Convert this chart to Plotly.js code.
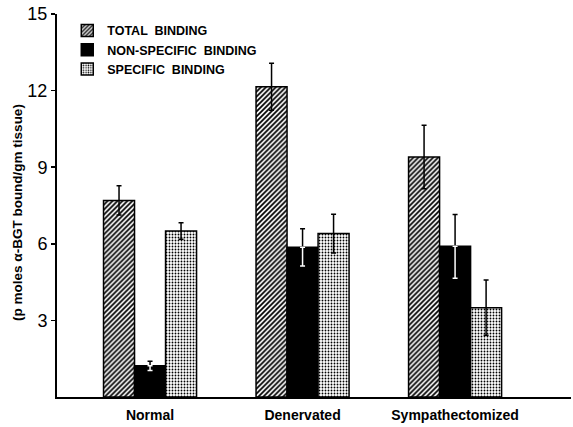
<!DOCTYPE html>
<html>
<head>
<meta charset="utf-8">
<script src="https://cdn.plot.ly/plotly-3.0.1.min.js"></script>
<style>html,body{margin:0;padding:0;background:#fff;}#chart{width:573px;height:427px;}</style>
</head>
<body>
<div id="chart"></div>
<script>
var categories = ["Normal", "Denervated", "Sympathectomized"];
var seriesNames = ["TOTAL  BINDING", "NON-SPECIFIC  BINDING", "SPECIFIC  BINDING"];
var totalBinding = [7.7, 12.15, 9.4];
var totalErr = [0.57, 0.92, 1.24];
var nonSpecific = [1.22, 5.86, 5.9];
var nonSpecificErr = [0.18, 0.73, 1.25];
var specific = [6.5, 6.4, 3.5];
var specificErr = [0.32, 0.76, 1.08];
var yTicks = [3, 6, 9, 12, 15];
var yTitle = "(p moles α-BGT bound/gm tissue)";

var zeros = categories.map(function () { return 0; });

var data = [
  {
    type: "bar", name: seriesNames[0], x: categories, y: totalBinding, offsetgroup: "t",
    marker: {
      color: "#fff", line: {color: "#000", width: 1.5},
      pattern: {shape: "/", fgcolor: "#000", bgcolor: "#fff", size: 3.5, solidity: 0.5}
    },
    error_y: {type: "data", array: totalErr, visible: true, color: "#000", thickness: 1.5, width: 2.5},
    hoverinfo: "skip"
  },
  {
    type: "bar", name: seriesNames[1], x: categories, y: nonSpecific, offsetgroup: "n",
    marker: {color: "#000", line: {color: "#000", width: 1.5}},
    error_y: {type: "data", symmetric: false, array: nonSpecificErr, arrayminus: zeros, visible: true, color: "#000", thickness: 1.5, width: 2.5},
    hoverinfo: "skip"
  },
  {
    type: "bar", name: seriesNames[1], x: categories, y: nonSpecific, offsetgroup: "n",
    showlegend: false,
    marker: {color: "rgba(0,0,0,0)", line: {width: 0}},
    error_y: {type: "data", symmetric: false, array: zeros, arrayminus: nonSpecificErr, visible: true, color: "#fff", thickness: 1.5, width: 2.5},
    hoverinfo: "skip"
  },
  {
    type: "bar", name: seriesNames[2], x: categories, y: specific, offsetgroup: "s",
    marker: {
      color: "#fff", line: {color: "#000", width: 1.5},
      pattern: {shape: ".", fgcolor: "#000", bgcolor: "#fff", size: 3, solidity: 0.3}
    },
    error_y: {type: "data", array: specificErr, visible: true, color: "#000", thickness: 1.5, width: 2.5},
    hoverinfo: "skip"
  }
];

var layout = {
  width: 573, height: 427,
  margin: {l: 57, r: 2, t: 14, b: 30},
  paper_bgcolor: "#fff", plot_bgcolor: "#fff",
  barmode: "group",
  bargap: 0.39, bargroupgap: 0,
  showlegend: true,
  legend: {
    x: 0.02, y: 0.995, xanchor: "left", yanchor: "top",
    bgcolor: "rgba(0,0,0,0)",
    font: {family: "Liberation Sans, Arial, sans-serif", size: 12.5, color: "#000", weight: "bold"},
    tracegroupgap: 0
  },
  xaxis: {
    type: "category",
    range: [-0.61, 2.76],
    showline: true, linecolor: "#000", linewidth: 2,
    ticks: "", showgrid: false, zeroline: false,
    ticklabelstandoff: 4,
    tickfont: {family: "Liberation Sans Narrow, Liberation Sans, Arial, sans-serif", size: 14, color: "#000", weight: "bold"}
  },
  yaxis: {
    range: [0, 15],
    tickvals: yTicks, ticktext: yTicks.map(String),
    showline: true, linecolor: "#000", linewidth: 2,
    ticks: "outside", ticklen: 4, tickwidth: 1.5, tickcolor: "#000",
    showgrid: false, zeroline: false,
    tickfont: {family: "Liberation Sans, Arial, sans-serif", size: 18, color: "#000"}
  },
  annotations: [{
    text: yTitle, textangle: -90,
    xref: "paper", yref: "paper", x: -0.078, y: 0.483,
    xanchor: "center", yanchor: "middle", showarrow: false,
    font: {family: "Liberation Sans Narrow, Liberation Sans, Arial, sans-serif", size: 13.5, color: "#000", weight: "bold"}
  }]
};

Plotly.newPlot("chart", data, layout, {displayModeBar: false, staticPlot: true});
</script>
</body>
</html>
